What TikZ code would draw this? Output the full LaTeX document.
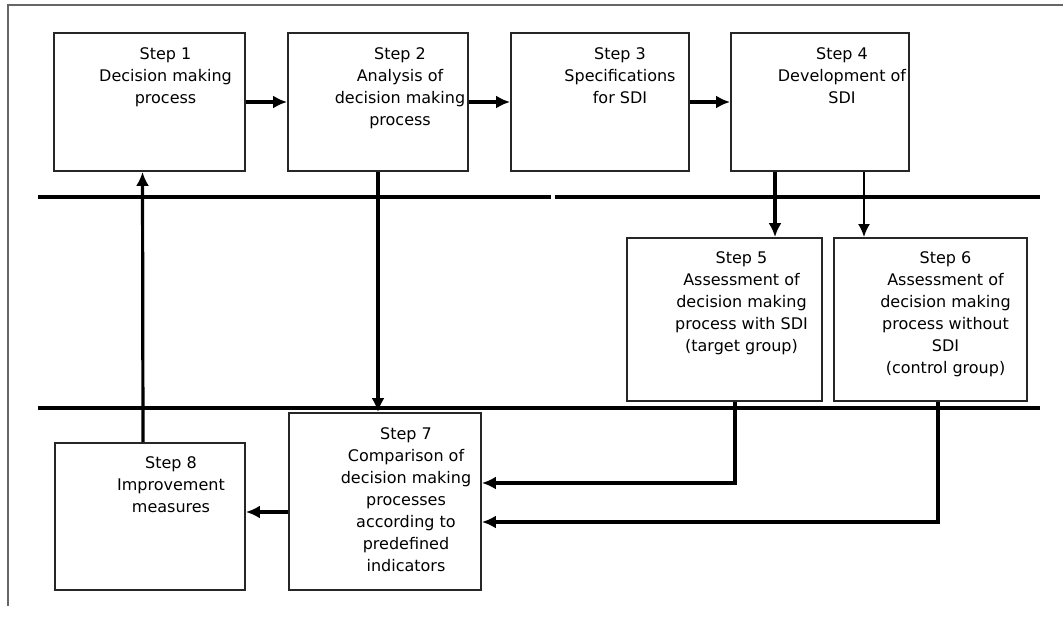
\documentclass[tikz,border=0pt]{standalone}
\usepackage{fontspec}
\setmainfont{DejaVu Sans}
\usetikzlibrary{arrows.meta}

\tikzset{
  stepbox/.style={draw=black!85, line width=1.8pt, inner sep=0pt},
  steptext/.style={anchor=north, align=center, inner sep=0pt,
    font=\fontsize{16}{22}\selectfont},
  sepline/.style={line width=4pt},
  flow/.style={line width=4pt, -{Latex[length=14pt,width=13pt]}},
  thinflow/.style={line width=2.2pt, -{Latex[length=13pt,width=12pt]}},
  link/.style={line width=3.2pt, -{Latex[length=14pt,width=13pt]}},
}

\begin{document}
\begin{tikzpicture}[x=1pt, y=-1pt]
  \useasboundingbox (0,0) rectangle (1063,618);
  % outer frame
  \draw[black!60, line width=2pt] (8,606) -- (8,5) -- (1063,5);

  % separator lines
  \draw[sepline] (38,197) -- (551,197);
  \draw[sepline] (555,197) -- (1040,197);
  \draw[sepline] (38,408) -- (1040,408);

  % boxes
  \node[stepbox, minimum width=191pt, minimum height=138pt] (s1) at (149.5,102) {};
  \node[stepbox, minimum width=180pt, minimum height=138pt] (s2) at (378,102) {};
  \node[stepbox, minimum width=178pt, minimum height=138pt] (s3) at (600,102) {};
  \node[stepbox, minimum width=178pt, minimum height=138pt] (s4) at (820,102) {};
  \node[stepbox, minimum width=195pt, minimum height=163pt] (s5) at (724.5,319.5) {};
  \node[stepbox, minimum width=193pt, minimum height=163pt] (s6) at (930.5,319.5) {};
  \node[stepbox, minimum width=192pt, minimum height=177pt] (s7) at (385,501.5) {};
  \node[stepbox, minimum width=190pt, minimum height=147pt] (s8) at (150,516.5) {};

  % texts
  \node[steptext] (t1) at ([xshift=16pt, yshift=-15pt]s1.north) {Step 1\\Decision making\\process};
  \node[steptext] (t2) at ([xshift=22pt, yshift=-15pt]s2.north) {Step 2\\Analysis of\\decision making\\process};
  \node[steptext] (t3) at ([xshift=20pt, yshift=-15pt]s3.north) {Step 3\\Specifications\\for SDI};
  \node[steptext] (t4) at ([xshift=22pt, yshift=-15pt]s4.north) {Step 4\\Development of\\SDI};
  \node[steptext] (t5) at ([xshift=17pt, yshift=-14pt]s5.north) {Step 5\\Assessment of\\decision making\\process with SDI\\(target group)};
  \node[steptext] (t6) at ([xshift=15pt, yshift=-14pt]s6.north) {Step 6\\Assessment of\\decision making\\process without\\SDI\\(control group)};
  \node[steptext] (t7) at ([xshift=21pt, yshift=-15pt]s7.north) {Step 7\\Comparison of\\decision making\\processes\\according to\\predefined\\indicators};
  \node[steptext] (t8) at ([xshift=21pt, yshift=-14pt]s8.north) {Step 8\\Improvement\\measures};

  % connectors
  \draw[flow] (s1) -- (s2);
  \draw[flow] (s2) -- (s3);
  \draw[flow] (s3) -- (s4);
  \draw[flow] ([xshift=-45pt]s4.south) -- ([xshift=-45pt]s4.south |- s5.north);
  \draw[thinflow] ([xshift=44pt]s4.south) -- ([xshift=44pt]s4.south |- s6.north);
  \draw[link] (s2.south) -- (s2.south |- s7.north);
  \draw[link] ([xshift=10.5pt]s5.south) |- ([yshift=18.5pt]s7.east);
  \draw[link] ([xshift=7.5pt]s6.south) |- ([yshift=-20.5pt]s7.east);
  \draw[flow] ([yshift=-10.5pt]s7.west) -- ([yshift=-10.5pt]s7.west -| s8.east);
  \draw[link] ([xshift=-7pt]s8.north) -- ([xshift=-7pt]s1.south);
\end{tikzpicture}
\end{document}
